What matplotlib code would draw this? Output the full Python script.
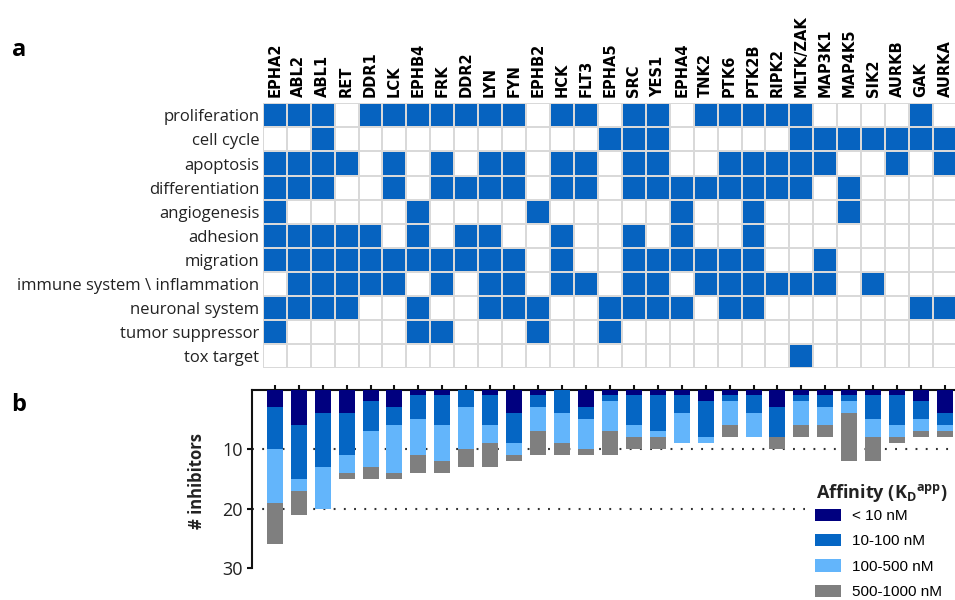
import numpy as np
import matplotlib
matplotlib.use("Agg")
import matplotlib.pyplot as plt
from matplotlib.colors import ListedColormap
from matplotlib.patches import Patch

# ---- data -------------------------------------------------------------
kinases = ["EPHA2", "ABL2", "ABL1", "RET", "DDR1", "LCK", "EPHB4", "FRK",
           "DDR2", "LYN", "FYN", "EPHB2", "HCK", "FLT3", "EPHA5", "SRC",
           "YES1", "EPHA4", "TNK2", "PTK6", "PTK2B", "RIPK2", "MLTK/ZAK",
           "MAP3K1", "MAP4K5", "SIK2", "AURKB", "GAK", "AURKA"]

processes = ["proliferation", "cell cycle", "apoptosis", "differentiation",
             "angiogenesis", "adhesion", "migration",
             "immune system \\ inflammation", "neuronal system",
             "tumor suppressor", "tox target"]

proliferation    = [1,1,1,0,1,1,1,1,1,1,1,0,1,1,0,1,1,0,1,1,1,1,1,0,0,0,0,1,0]
cell_cycle       = [0,0,1,0,0,0,0,0,0,0,0,0,0,0,1,1,1,0,0,0,0,0,1,1,1,1,1,1,1]
apoptosis        = [1,1,1,1,0,1,0,1,0,1,1,0,1,1,0,1,1,0,0,1,1,1,1,1,0,0,1,0,1]
differentiation  = [1,1,1,0,0,1,0,1,1,1,1,0,1,1,0,1,1,1,1,1,1,1,1,0,1,0,0,0,0]
angiogenesis     = [1,0,0,0,0,0,1,0,0,0,0,1,0,0,0,0,0,1,0,0,1,0,0,0,1,0,0,0,0]
adhesion         = [1,1,1,1,1,0,1,0,1,1,0,0,1,0,0,1,0,1,0,0,1,0,0,0,0,0,0,0,0]
migration        = [1,1,1,1,1,1,1,1,1,1,1,0,1,0,0,1,1,1,1,1,1,0,0,1,0,0,0,0,0]
immune           = [0,1,1,1,1,1,0,1,0,1,1,0,1,1,0,1,1,0,1,1,1,1,1,1,0,1,0,0,0]
neuronal         = [1,1,1,1,0,0,1,0,0,1,1,1,0,0,1,1,1,1,0,1,1,0,0,0,0,0,0,1,1]
tumor_suppressor = [1,0,0,0,0,0,1,1,0,0,0,1,0,0,1,0,0,0,0,0,0,0,0,0,0,0,0,0,0]
tox_target       = [0,0,0,0,0,0,0,0,0,0,0,0,0,0,0,0,0,0,0,0,0,0,1,0,0,0,0,0,0]

# number of inhibitors per affinity class
lt10      = [3,6,4,4,2,3,1,1,0,1,4,1,0,3,1,1,1,1,2,1,1,3,1,1,1,1,1,2,4]
r10_100   = [7,9,9,7,5,3,4,5,3,5,5,2,4,2,1,5,6,3,6,1,3,5,1,2,1,4,5,3,2]
r100_500  = [9,2,7,3,6,8,6,6,7,3,2,4,5,5,5,2,1,5,1,4,4,0,4,3,2,3,2,2,1]
r500_1000 = [7,4,0,1,2,1,3,2,3,4,1,4,2,1,4,2,2,0,0,2,0,2,2,2,8,4,1,1,1]

affinity_labels = ["< 10 nM", "10-100 nM", "100-500 nM", "500-1000 nM"]
yticks_b = [10, 20, 30]

# ---- style ------------------------------------------------------------
W, H = 955, 600
CELL_BLUE = "#0663C0"
GRID_GREY = "#D9D9D9"
BAR_COLORS = ["#00007F", "#0566C4", "#63B5FB", "#7F7F7F"]
ROW_FONT = "Open Sans"
COL_FONT = "DejaVu Sans"

fig = plt.figure(figsize=(W / 100, H / 100), dpi=100)
fig.patch.set_facecolor("white")


def fx(px):
    return px / W


def fy(py):
    return 1 - py / H


# ---- panel a: heatmap -------------------------------------------------
grid_left, grid_right = 262.8, 957.0
grid_top, grid_bottom = 103.3, 368.3
ax_a = fig.add_axes([fx(grid_left), fy(grid_bottom),
                     fx(grid_right - grid_left), (grid_bottom - grid_top) / H])

matrix = np.array([proliferation, cell_cycle, apoptosis, differentiation,
                   angiogenesis, adhesion, migration, immune, neuronal,
                   tumor_suppressor, tox_target])
n_rows, n_cols = matrix.shape
ax_a.pcolormesh(np.arange(n_cols + 1), np.arange(n_rows + 1), matrix,
                cmap=ListedColormap(["white", CELL_BLUE]), vmin=0, vmax=1,
                edgecolors=GRID_GREY, linewidth=1.4)
ax_a.set_xlim(0, n_cols)
ax_a.set_ylim(n_rows, 0)
for s in ax_a.spines.values():
    s.set_visible(False)

ax_a.set_xticks(np.arange(n_cols) + 0.5)
ax_a.set_xticklabels(kinases, rotation=90, fontsize=10.5, fontweight="bold",
                     family=COL_FONT)
ax_a.xaxis.tick_top()
ax_a.set_yticks(np.arange(n_rows) + 0.5)
ax_a.set_yticklabels(processes, fontsize=12, family=ROW_FONT, color="#222222")
ax_a.tick_params(axis="x", length=0, pad=4.5)
ax_a.tick_params(axis="y", length=0, pad=2.5)

# ---- panel b: stacked bars --------------------------------------------
b_left, b_top, b_bottom = 251.7, 389.5, 568.3
ax_b = fig.add_axes([fx(b_left), fy(b_bottom), fx(grid_right - b_left),
                     (b_bottom - b_top) / H])
x = np.arange(len(kinases)) + 0.5
bottom = np.zeros(len(kinases))
for vals, col, lab in zip([lt10, r10_100, r100_500, r500_1000], BAR_COLORS,
                          affinity_labels):
    vals = np.array(vals, dtype=float)
    ax_b.bar(x, vals, bottom=bottom, width=0.67, color=col, label=lab,
             zorder=3, linewidth=0)
    bottom += vals

x0 = (b_left - grid_left) / ((grid_right - grid_left) / n_cols)
ax_b.set_xlim(x0, n_cols)
ax_b.set_ylim(30, 0)

for yv in (10, 20):
    ax_b.axhline(yv, color="#333333", linewidth=1.5,
                 linestyle=(0, (0.9, 4.0)), zorder=1)

for side in ("right", "bottom"):
    ax_b.spines[side].set_visible(False)
for side in ("top", "left"):
    ax_b.spines[side].set_linewidth(1.5)
    ax_b.spines[side].set_color("#111111")

ax_b.xaxis.tick_top()
ax_b.set_xticks(x)
ax_b.set_xticklabels([])
ax_b.tick_params(axis="x", direction="out", length=3.5, width=1.5,
                 color="#111111")
ax_b.set_yticks(yticks_b)
ax_b.set_yticklabels([str(v) for v in yticks_b], fontsize=13, family=ROW_FONT,
                     color="#222222")
ax_b.tick_params(axis="y", direction="out", length=3.5, width=1.5, pad=3,
                 color="#111111")
ax_b.set_ylabel("# inhibitors", fontsize=12, fontweight="bold",
                family=ROW_FONT, color="#222222")
ax_b.yaxis.set_label_coords((206 - b_left) / (grid_right - b_left), 0.49)

# legend: title as its own text, entries below it
fig.text(fx(816), fy(493), r"Affinity (K$_\mathregular{D}$$^\mathregular{app}$)",
         fontsize=13, fontweight="bold", family=ROW_FONT, color="#222222",
         ha="left", va="center", zorder=11)
handles = [Patch(facecolor=c, edgecolor="none") for c in BAR_COLORS]
leg = fig.legend(handles, affinity_labels, loc="upper left",
                 bbox_to_anchor=(fx(810), fy(504)), frameon=True,
                 facecolor="white", edgecolor="none", framealpha=1,
                 prop={"family": "Liberation Sans", "size": 11},
                 handlelength=1.7, handleheight=0.85,
                 labelspacing=0.72, handletextpad=0.75, borderpad=0.3,
                 borderaxespad=0)
leg.set_zorder(10)
# white backing so the dotted reference line stops at the legend block
fig.patches.append(plt.Rectangle((fx(805), 0), fx(150), fy(478),
                                 transform=fig.transFigure, facecolor="white",
                                 edgecolor="none", zorder=5))

# panel letters
fig.text(fx(19), fy(50), "a", fontsize=17, fontweight="bold",
         family=ROW_FONT, ha="center", va="center")
fig.text(fx(19), fy(405), "b", fontsize=17, fontweight="bold",
         family=ROW_FONT, ha="center", va="center")

fig.savefig("out.png", dpi=100, facecolor="white")
